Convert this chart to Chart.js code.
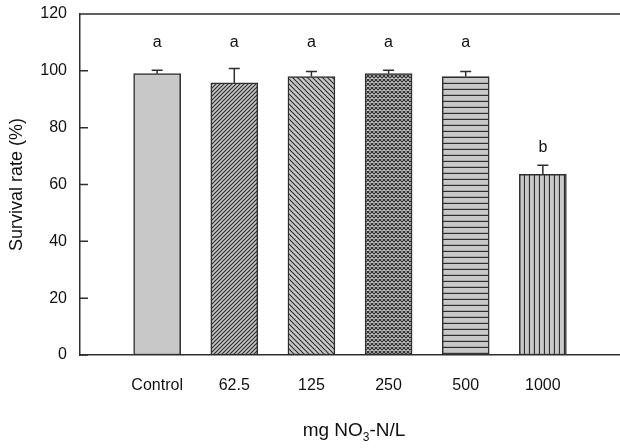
<!DOCTYPE html>
<html>
<head>
    <script src="https://cdn.jsdelivr.net/npm/chart.js"></script>
    <title>Survival rate</title>
    <style>
        body { margin: 0; background: #fff; }
        #wrap { width: 620px; height: 448px; }
    </style>
</head>
<body>
    <div id="wrap"><canvas id="survivalChart"></canvas></div>

    <script>
        const categories = ['Control', '62.5', '125', '250', '500', '1000'];
        const survival = [99.0, 95.8, 98.0, 99.0, 98.0, 63.6];
        const survivalErr = [1.2, 5.0, 1.8, 1.2, 1.8, 3.2];
        const sigLetters = ['a', 'a', 'a', 'a', 'a', 'b'];
        const letterValues = [110, 110, 110, 110, 110, 73];
        const yTicks = [0, 20, 40, 60, 80, 100, 120];

        const fillGrey = '#c8c8c8';
        const ink = '#2e2e2e';
        const font = "'Liberation Sans', Arial, sans-serif";

        // little tiles for the hatch fills
        function makePattern(size, drawFn) {
            const c = document.createElement('canvas');
            c.width = size;
            c.height = size;
            const g = c.getContext('2d');
            g.fillStyle = fillGrey;
            g.fillRect(0, 0, size, size);
            g.strokeStyle = ink;
            drawFn(g, size);
            return g.createPattern(c, 'repeat');
        }

        const patterns = [
            fillGrey,
            makePattern(4, (g, s) => {
                g.lineWidth = 1.2;
                g.beginPath();
                g.moveTo(0, s); g.lineTo(s, 0);
                g.moveTo(-1, 1); g.lineTo(1, -1);
                g.moveTo(s - 1, s + 1); g.lineTo(s + 1, s - 1);
                g.stroke();
            }),
            makePattern(5, (g, s) => {
                g.lineWidth = 1.1;
                g.beginPath();
                g.moveTo(0, 0); g.lineTo(s, s);
                g.moveTo(-1, s - 1); g.lineTo(1, s + 1);
                g.moveTo(s - 1, -1); g.lineTo(s + 1, 1);
                g.stroke();
            }),
            makePattern(4, (g, s) => {
                g.lineWidth = 1.15;
                g.beginPath();
                g.moveTo(0, 0); g.lineTo(s, s);
                g.moveTo(0, s); g.lineTo(s, 0);
                g.stroke();
            }),
            makePattern(6, (g, s) => {
                g.lineWidth = 1.4;
                g.beginPath();
                g.moveTo(0, s - 0.5); g.lineTo(s, s - 0.5);
                g.stroke();
            }),
            makePattern(5, (g, s) => {
                g.lineWidth = 1.2;
                g.beginPath();
                g.moveTo(s - 0.5, 0); g.lineTo(s - 0.5, s);
                g.stroke();
            })
        ];

        const extras = {
            id: 'extras',
            afterDatasetsDraw(chart) {
                const ctx = chart.ctx;
                const xs = chart.scales.x;
                const ys = chart.scales.y;
                const area = chart.chartArea;
                ctx.save();
                ctx.strokeStyle = ink;
                ctx.lineWidth = 1.5;

                // error bars (upper only)
                survival.forEach((v, i) => {
                    const x = xs.getPixelForValue(i + 1);
                    const y0 = ys.getPixelForValue(v);
                    const y1 = ys.getPixelForValue(v + survivalErr[i]);
                    ctx.beginPath();
                    ctx.moveTo(x, y0);
                    ctx.lineTo(x, y1);
                    ctx.moveTo(x - 5.5, y1);
                    ctx.lineTo(x + 5.5, y1);
                    ctx.stroke();
                });

                // frame top + inner y ticks
                ctx.beginPath();
                ctx.moveTo(area.left, area.top);
                ctx.lineTo(area.right, area.top);
                yTicks.forEach(t => {
                    const y = ys.getPixelForValue(t);
                    ctx.moveTo(area.left, y);
                    ctx.lineTo(area.left + 8, y);
                });
                ctx.stroke();

                // significance letters
                ctx.fillStyle = '#111';
                ctx.font = '16px ' + font;
                ctx.textAlign = 'center';
                ctx.textBaseline = 'middle';
                sigLetters.forEach((s, i) => {
                    ctx.fillText(s, xs.getPixelForValue(i + 1), ys.getPixelForValue(letterValues[i]));
                });

                // x axis title with subscript
                const parts = [['mg NO', 19, 0], ['3', 12, 5], ['-N/L', 19, 0]];
                let total = 0;
                parts.forEach(p => {
                    ctx.font = p[1] + 'px ' + font;
                    total += ctx.measureText(p[0]).width;
                });
                let x = (area.left + area.right) / 2 + 4 - total / 2;
                ctx.textAlign = 'left';
                ctx.textBaseline = 'alphabetic';
                parts.forEach(p => {
                    ctx.font = p[1] + 'px ' + font;
                    ctx.fillText(p[0], x, 436 + p[2]);
                    x += ctx.measureText(p[0]).width;
                });
                ctx.restore();
            }
        };

        new Chart(document.getElementById('survivalChart'), {
            type: 'bar',
            data: {
                datasets: [{
                    data: survival.map((v, i) => ({ x: i + 1, y: v })),
                    backgroundColor: patterns,
                    borderColor: ink,
                    borderWidth: 1.5,
                    borderSkipped: false,
                    barThickness: 47
                }]
            },
            options: {
                responsive: true,
                maintainAspectRatio: false,
                animation: false,
                layout: { padding: { top: 14, right: 0, left: 0, bottom: 0 } },
                plugins: {
                    legend: { display: false },
                    tooltip: { enabled: false }
                },
                scales: {
                    x: {
                        type: 'linear',
                        offset: false,
                        min: 0,
                        max: 7,
                        grid: { display: false, drawTicks: false, offset: false },
                        border: { display: true, color: ink, width: 1.5 },
                        ticks: {
                            stepSize: 1,
                            autoSkip: false,
                            maxRotation: 0,
                            padding: 21,
                            color: '#111',
                            font: { family: font, size: 16 },
                            callback: v => categories[v - 1] || ''
                        },
                        afterFit: s => {
                            s.height = 93;
                            s.paddingLeft = 0;
                            s.paddingRight = 0;
                        }
                    },
                    y: {
                        min: 0,
                        max: 120,
                        grid: { display: false, drawTicks: false },
                        border: { display: true, color: ink, width: 1.5 },
                        ticks: {
                            stepSize: 20,
                            padding: 13,
                            color: '#111',
                            font: { family: font, size: 16 }
                        },
                        title: {
                            display: true,
                            text: 'Survival rate (%)',
                            color: '#111',
                            font: { family: font, size: 18 },
                            padding: { top: 6, bottom: 0 }
                        },
                        afterFit: s => {
                            s.width = 80;
                            s.paddingTop = 0;
                            s.paddingBottom = 0;
                        }
                    }
                }
            },
            plugins: [extras]
        });
    </script>
</body>
</html>
